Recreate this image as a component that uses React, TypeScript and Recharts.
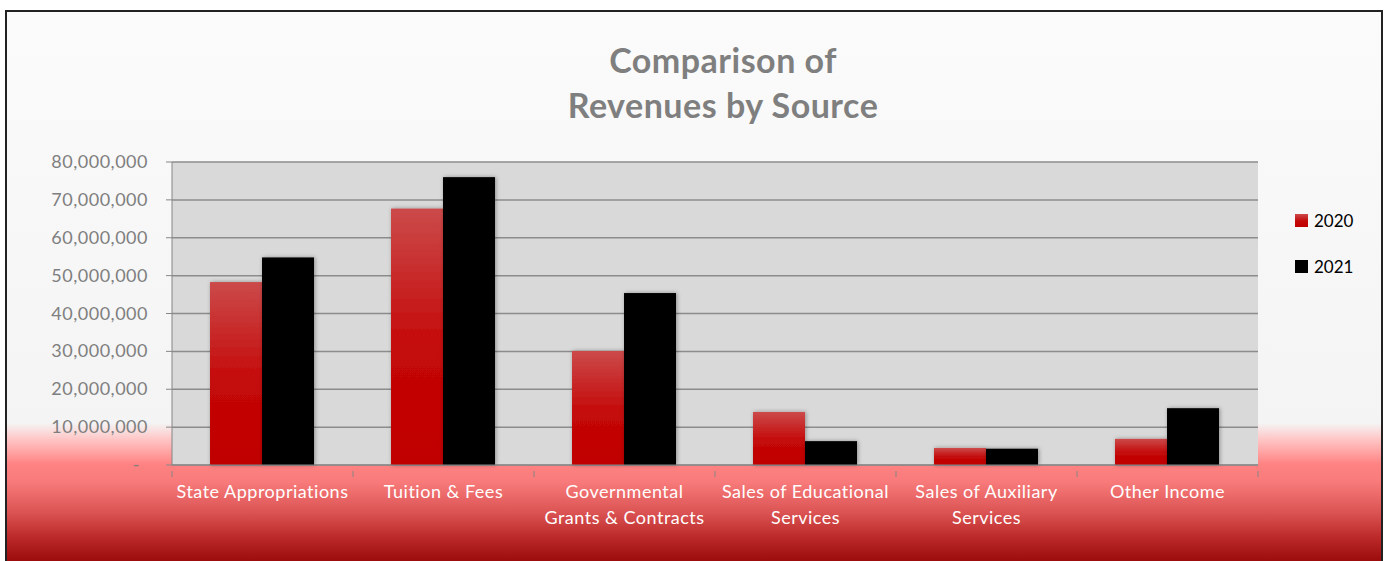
import { BarChart, Bar, XAxis, YAxis, CartesianGrid, Legend } from "recharts";

const categories = [
  "State Appropriations",
  "Tuition & Fees",
  "Governmental\nGrants & Contracts",
  "Sales of Educational\nServices",
  "Sales of Auxiliary\nServices",
  "Other Income",
];
const revenue2020 = [48300000, 67700000, 30100000, 14000000, 4500000, 6900000];
const revenue2021 = [54800000, 76000000, 45400000, 6300000, 4300000, 15000000];
const yTicks = [0, 10000000, 20000000, 30000000, 40000000, 50000000, 60000000, 70000000, 80000000];

const data = categories.map((name, i) => ({
  name,
  y2020: revenue2020[i],
  y2021: revenue2021[i],
}));

const W = 1374;
const H = 556;
const M = { top: 150, right: 123, bottom: 43, left: 5 };
const FONT = "Lato, 'Open Sans', sans-serif";
const band = (W - M.left - 160 - M.right) / categories.length;

const XTick = (props: any) => {
  const { x, y, payload, index } = props;
  const lines = String(payload.value).split("\n");
  return (
    <g>
      <line x1={x - band / 2} x2={x - band / 2} y1={y} y2={y + 6} stroke="#868686" />
      {index === categories.length - 1 && (
        <line x1={x + band / 2} x2={x + band / 2} y1={y} y2={y + 6} stroke="#868686" />
      )}
      {lines.map((l, i) => (
        <text
          key={i}
          x={x}
          y={y + 27 + i * 26}
          textAnchor="middle"
          fill="#ffffff"
          fontSize={18}
          letterSpacing={0.5}
          fontFamily={FONT}
        >
          {l}
        </text>
      ))}
    </g>
  );
};

const YTick = (props: any) => {
  const { x, y, payload } = props;
  const zero = payload.value === 0;
  return (
    <text
      x={zero ? x - 8 : x}
      y={y}
      dy={6}
      textAnchor="end"
      fill="#7f7f7f"
      fontSize={18}
      letterSpacing={0.5}
      fontFamily={FONT}
    >
      {zero ? "-" : payload.value.toLocaleString("en-US")}
    </text>
  );
};

const ShadowBar = (props: any) => {
  const { x, y, width, height, fill } = props;
  if (!height || height <= 0) return <g />;
  return (
    <rect x={x} y={y} width={width} height={height} fill={fill} filter="url(#barShadow)" />
  );
};

const LegendContent = () => (
  <div style={{ fontFamily: FONT, fontSize: 17, color: "#000" }}>
    {[
      { label: "2020", bg: "linear-gradient(#cc4a4a, #c40808 55%, #c00000)" },
      { label: "2021", bg: "#000" },
    ].map((e, i) => (
      <div
        key={e.label}
        style={{ display: "flex", alignItems: "center", height: 20, marginBottom: i === 0 ? 26 : 0 }}
      >
        <span style={{ width: 13, height: 13, background: e.bg, marginRight: 6 }} />
        <span>{e.label}</span>
      </div>
    ))}
  </div>
);

export default function App() {
  return (
    <div
      style={{
        position: "absolute",
        left: 5,
        top: 10,
        width: W + 4,
        height: H + 4,
        boxSizing: "border-box",
        border: "2px solid #222",
        background:
          "linear-gradient(to bottom, #fbfbfb 0px, #f4f4f4 411px, #ffc4c4 428px, #ff8383 452px, #f87a7a 470px, #dc5454 500px, #bc2a2a 525px, #9c0c0c 549px)",
      }}
    >
      <div
        style={{
          position: "absolute",
          left: 0,
          width: 1432,
          top: 25,
          textAlign: "center",
          fontFamily: FONT,
          fontWeight: 700,
          fontSize: 34,
          letterSpacing: 0.5,
          lineHeight: "45px",
          color: "#7f7f7f",
        }}
      >
        Comparison of
        <br />
        Revenues by Source
      </div>
      <BarChart
        width={W}
        height={H}
        data={data}
        margin={M}
        barCategoryGap="21%"
        barGap={0}
      >
        <defs>
          <linearGradient id="red2020" x1="0" y1="0" x2="0" y2="1">
            <stop offset="0%" stopColor="#cc4a4a" />
            <stop offset="55%" stopColor="#c40808" />
            <stop offset="100%" stopColor="#c00000" />
          </linearGradient>
          <filter id="barShadow" x="-20%" y="-20%" width="140%" height="140%">
            <feDropShadow dx="1" dy="0" stdDeviation="2" floodColor="#000" floodOpacity="0.35" />
          </filter>
        </defs>
        <CartesianGrid vertical={false} fill="#d9d9d9" stroke="#8c8c8c" strokeWidth={1.5} />
        <XAxis
          dataKey="name"
          height={60}
          interval={0}
          tickLine={false}
          tickMargin={0}
          stroke="#868686"
          tick={<XTick />}
        />
        <YAxis
          width={160}
          domain={[0, 80000000]}
          ticks={yTicks}
          tickSize={6}
          tickMargin={18}
          stroke="#868686"
          tick={<YTick />}
        />
        <Legend
          layout="horizontal"
          verticalAlign="middle"
          align="center"
          content={<LegendContent />}
          wrapperStyle={{ position: "absolute", left: 1288, top: 198, width: 80 }}
        />
        <Bar dataKey="y2020" name="2020" fill="url(#red2020)" shape={<ShadowBar />} isAnimationActive={false} />
        <Bar dataKey="y2021" name="2021" fill="#000000" shape={<ShadowBar />} isAnimationActive={false} />
      </BarChart>
    </div>
  );
}
